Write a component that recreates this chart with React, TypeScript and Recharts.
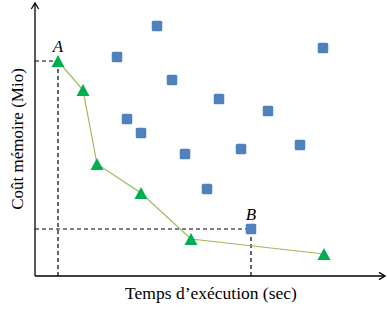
import React from "react";
import { ScatterChart, Scatter, XAxis, YAxis, ReferenceLine, ReferenceDot } from "recharts";

// Pareto front (green triangles), in plot units
const frontTime = [23, 48, 62, 106, 156, 289];
const frontMemory = [215, 186, 112, 83, 37, 22];

// dominated solutions (blue squares)
const otherTime = [122, 82, 288, 137, 184, 233, 92, 106, 150, 206, 265, 172, 216];
const otherMemory = [250, 219, 228, 196, 177, 165, 157, 143, 122, 127, 131, 87, 47];

const xLabel = "Temps d\u2019exécution (sec)";
const yLabel = "Coût mémoire (Mio)";

const front = frontTime.map((x, i) => ({ x, y: frontMemory[i] }));
const others = otherTime.map((x, i) => ({ x, y: otherMemory[i] }));

const pointA = front[0];
const pointB = others[others.length - 1];

const font = "'Liberation Serif', 'DejaVu Serif', serif";

// axis line with open arrow head at the far end
const Arrow = (props: any) => {
    const { x1, y1, x2, y2 } = props;
    const ang = Math.atan2(y2 - y1, x2 - x1);
    const len = 7;
    const spread = 0.55;
    const p1x = x2 - len * Math.cos(ang - spread);
    const p1y = y2 - len * Math.sin(ang - spread);
    const p2x = x2 - len * Math.cos(ang + spread);
    const p2y = y2 - len * Math.sin(ang + spread);
    return (
        <g>
            <line x1={x1} y1={y1} x2={x2} y2={y2} stroke="#000" strokeWidth={1.3} />
            <polyline points={`${p1x},${p1y} ${x2},${y2} ${p2x},${p2y}`} fill="none" stroke="#000" strokeWidth={1.3} />
        </g>
    );
};

const Square = (props: any) => {
    const { cx, cy } = props;
    const s = 10.5;
    return <rect x={cx - s / 2} y={cy - s / 2} width={s} height={s} rx={1.5} fill="#4F81BD" />;
};

const Triangle = (props: any) => {
    const { cx, cy } = props;
    const hw = 6.5;
    const hh = 6;
    return <polygon points={`${cx},${cy - hh} ${cx + hw},${cy + hh} ${cx - hw},${cy + hh}`} fill="#00B050" />;
};

const dash = "4 3";

export default function App() {
    return (
        <div style={{ position: "absolute", left: 0, top: 0, width: 387, height: 309, background: "#fff" }}>
            <ScatterChart width={387} height={309} margin={{ top: 3, right: 2, bottom: 33, left: 35 }}>
                <XAxis type="number" dataKey="x" domain={[0, 350]} hide />
                <YAxis type="number" dataKey="y" domain={[0, 273]} hide />

                {/* guide lines to A and B */}
                <ReferenceLine segment={[{ x: 0, y: pointA.y }, { x: pointA.x, y: pointA.y }]} stroke="#000" strokeDasharray={dash} strokeWidth={1.2} />
                <ReferenceLine segment={[{ x: pointA.x, y: 0 }, { x: pointA.x, y: pointA.y }]} stroke="#000" strokeDasharray={dash} strokeWidth={1.2} />
                <ReferenceLine segment={[{ x: 0, y: pointB.y }, { x: pointB.x, y: pointB.y }]} stroke="#000" strokeDasharray={dash} strokeWidth={1.2} />
                <ReferenceLine segment={[{ x: pointB.x, y: 0 }, { x: pointB.x, y: pointB.y }]} stroke="#000" strokeDasharray={dash} strokeWidth={1.2} />

                {/* axes with arrows */}
                <ReferenceLine segment={[{ x: 0, y: 0 }, { x: 0, y: 273 }]} shape={Arrow} />
                <ReferenceLine segment={[{ x: 0, y: 0 }, { x: 350, y: 0 }]} shape={Arrow} />

                <Scatter data={others} shape={Square} isAnimationActive={false} />
                <Scatter
                    data={front}
                    shape={Triangle}
                    line={{ stroke: "#9BBB59", strokeWidth: 1.2 }}
                    isAnimationActive={false}
                />

                <ReferenceDot x={pointA.x} y={pointA.y} r={8} fill="none" stroke="none"
                    label={{ value: "A", position: "top", offset: 1, fontStyle: "italic", fontFamily: font, fontSize: 17, fill: "#000" }} />
                <ReferenceDot x={pointB.x} y={pointB.y} r={8} fill="none" stroke="none"
                    label={{ value: "B", position: "top", offset: 1, fontStyle: "italic", fontFamily: font, fontSize: 17, fill: "#000" }} />

                <text x={211} y={299} textAnchor="middle" fontFamily={font} fontSize={17.5} fill="#000">{xLabel}</text>
                <text x={23} y={139} textAnchor="middle" fontFamily={font} fontSize={17} fill="#000" transform="rotate(-90 23 139)">{yLabel}</text>
            </ScatterChart>
        </div>
    );
}
